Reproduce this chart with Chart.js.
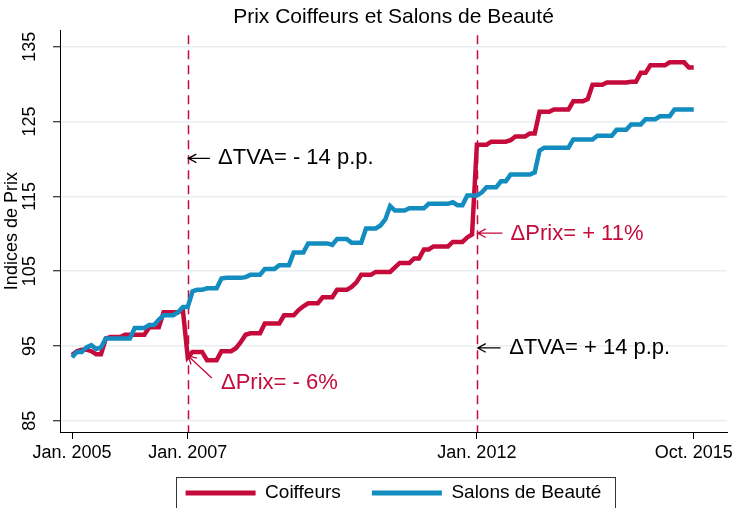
<!DOCTYPE html>
<html>
<head>
<meta charset="utf-8">
<script src="https://cdn.jsdelivr.net/npm/chart.js@4/dist/chart.umd.min.js"></script>
<style>
  html, body { margin: 0; padding: 0; background: #fff; }
</style>
</head>
<body>
<canvas id="prixChart" width="738" height="508"></canvas>
<script>
// Monthly price indices, Jan. 2005 (month 0) to Oct. 2015 (month 129)
const coiffeurs = [
  93.8, 94.3, 94.5, 94.5, 94.3, 93.9, 93.9, 96.0, 96.2, 96.2,
  96.2, 96.5, 96.5, 96.5, 96.5, 96.5, 97.5, 97.5, 97.5, 99.5,
  99.5, 99.5, 99.5, 99.8, 93.5, 94.2, 94.2, 94.2, 93.1, 93.1,
  93.1, 94.3, 94.3, 94.3, 94.7, 95.5, 96.5, 96.7, 96.7, 96.7,
  98.0, 98.0, 98.0, 98.0, 99.1, 99.1, 99.1, 99.8, 100.3, 100.7,
  100.7, 100.7, 101.5, 101.5, 101.5, 102.5, 102.5, 102.5, 102.9, 103.5,
  104.5, 104.5, 104.5, 104.9, 104.9, 104.9, 104.9, 105.5, 106.1, 106.1,
  106.1, 106.7, 106.7, 107.9, 107.9, 108.3, 108.3, 108.3, 108.3, 108.9,
  108.9, 108.9, 109.5, 109.9, 121.9, 121.9, 121.9, 122.3, 122.3, 122.3,
  122.3, 122.5, 123.0, 123.0, 123.0, 123.4, 123.4, 126.3, 126.3, 126.3,
  126.6, 126.6, 126.6, 126.6, 127.7, 127.7, 127.7, 128.0, 129.9, 129.9,
  129.9, 130.2, 130.2, 130.2, 130.2, 130.2, 130.3, 130.3, 131.5, 131.5,
  132.5, 132.5, 132.5, 132.5, 132.9, 132.9, 132.9, 132.9, 132.2, 132.2
];

const salons = [
  93.5, 94.2, 94.2, 94.8, 95.1, 94.6, 94.8, 96.0, 96.0, 96.0,
  96.0, 96.0, 96.0, 97.4, 97.4, 97.4, 97.8, 97.8, 98.5, 99.1,
  99.1, 99.1, 99.5, 100.2, 100.2, 102.3, 102.5, 102.5, 102.7, 102.7,
  102.7, 104.0, 104.1, 104.1, 104.1, 104.1, 104.2, 104.5, 104.5, 104.5,
  105.3, 105.3, 105.3, 105.8, 105.8, 105.8, 107.5, 107.5, 107.5, 108.7,
  108.7, 108.7, 108.7, 108.7, 108.5, 109.3, 109.3, 109.3, 108.8, 108.8,
  108.8, 110.7, 110.7, 110.7, 111.1, 111.9, 113.7, 113.1, 113.1, 113.1,
  113.4, 113.4, 113.4, 113.4, 114.0, 114.0, 114.0, 114.0, 114.0, 114.2,
  113.8, 113.8, 115.1, 115.1, 115.1, 115.5, 116.2, 116.2, 116.2, 117.0,
  117.0, 117.9, 117.9, 117.9, 117.9, 117.9, 118.2, 121.1, 121.5, 121.5,
  121.5, 121.5, 121.5, 121.5, 122.6, 122.6, 122.6, 122.6, 122.6, 123.1,
  123.1, 123.1, 123.1, 123.9, 123.9, 123.9, 124.6, 124.6, 124.6, 125.3,
  125.3, 125.3, 125.7, 125.7, 125.7, 126.6, 126.6, 126.6, 126.6, 126.6
];

const months = coiffeurs.map((_, i) => i);
const xTickMonths = [0, 24, 84, 129];
const xTickLabels = ["Jan. 2005", "Jan. 2007", "Jan. 2012", "Oct. 2015"];
const yTicks = [85, 95, 105, 115, 125, 135];
const vatMonths = [24, 84]; // VAT changes

const RED = "#c50a3c";
const BLUE = "#138cbf";
const FONT = "'Liberation Sans', Arial, sans-serif";

// text notes, placed in data units (month, index)
const notes = [
  { text: "\u0394TVA= - 14 p.p.", color: "#000", at: [30.3, 120.07], from: [28.6, 120.07], to: [24.15, 120.07] },
  { text: "\u0394TVA= + 14 p.p.", color: "#000", at: [90.7, 94.73], from: [88.9, 94.73], to: [84.2, 94.73] },
  { text: "\u0394Prix= + 11%", color: RED, at: [91.0, 109.95], from: [89.3, 110.07], to: [84.2, 110.07] },
  { text: "\u0394Prix= - 6%", color: RED, at: [30.9, 90.07], from: [29.0, 90.73], to: [24.1, 93.67] }
];

Chart.defaults.font.family = FONT;
Chart.defaults.color = "#000";

function drawArrow(ctx, x1, y1, x2, y2, color) {
  const ang = Math.atan2(y2 - y1, x2 - x1);
  const head = 9;
  ctx.strokeStyle = color;
  ctx.lineWidth = 1.3;
  ctx.beginPath();
  ctx.moveTo(x1, y1);
  ctx.lineTo(x2, y2);
  ctx.moveTo(x2 - head * Math.cos(ang - 0.5), y2 - head * Math.sin(ang - 0.5));
  ctx.lineTo(x2, y2);
  ctx.lineTo(x2 - head * Math.cos(ang + 0.5), y2 - head * Math.sin(ang + 0.5));
  ctx.stroke();
}

const vatLines = {
  id: "vatLines",
  beforeDatasetsDraw(chart) {
    const { ctx, chartArea, scales: { x } } = chart;
    ctx.save();
    ctx.strokeStyle = RED;
    ctx.lineWidth = 1.5;
    ctx.setLineDash([9, 6]);
    vatMonths.forEach((m) => {
      const px = Math.round(x.getPixelForValue(m)) + 0.5;
      ctx.beginPath();
      ctx.moveTo(px, chartArea.top + 5);
      ctx.lineTo(px, chartArea.bottom);
      ctx.stroke();
    });
    ctx.restore();
  },
  afterDatasetsDraw(chart) {
    const { ctx, scales: { x, y } } = chart;
    ctx.save();
    ctx.font = "22px " + FONT;
    ctx.textBaseline = "middle";
    ctx.textAlign = "left";
    notes.forEach((n) => {
      drawArrow(ctx,
        x.getPixelForValue(n.from[0]), y.getPixelForValue(n.from[1]),
        x.getPixelForValue(n.to[0]), y.getPixelForValue(n.to[1]), n.color);
      ctx.fillStyle = n.color;
      ctx.fillText(n.text, x.getPixelForValue(n.at[0]), y.getPixelForValue(n.at[1]));
    });
    ctx.restore();
  }
};

// frame round the legend
const legendFrame = {
  id: "legendFrame",
  afterDraw(chart) {
    const boxes = chart.legend && chart.legend.legendHitBoxes;
    if (!boxes || !boxes.length) return;
    const { ctx } = chart;
    const left = Math.min(...boxes.map((b) => b.left)) - 10;
    const right = Math.max(...boxes.map((b) => b.left + b.width)) + 13;
    const cy = boxes[0].top + boxes[0].height / 2;
    ctx.save();
    ctx.strokeStyle = "#333";
    ctx.lineWidth = 1;
    ctx.strokeRect(Math.round(left) + 0.5, Math.round(cy - 16) + 0.5, Math.round(right - left), 34);
    ctx.restore();
  }
};

new Chart(document.getElementById("prixChart").getContext("2d"), {
  type: "line",
  data: {
    labels: months,
    datasets: [
      {
        label: "Coiffeurs",
        data: months.map((m, i) => ({ x: m, y: coiffeurs[i] })),
        borderColor: RED,
        backgroundColor: RED,
        borderWidth: 4.5,
        pointRadius: 0,
        tension: 0,
        order: 2,
      },
      {
        label: "Salons de Beauté",
        data: months.map((m, i) => ({ x: m, y: salons[i] })),
        borderColor: BLUE,
        backgroundColor: BLUE,
        borderWidth: 4.5,
        pointRadius: 0,
        tension: 0,
        order: 1,
      },
    ],
  },
  options: {
    responsive: false,
    animation: false,
    layout: { padding: { left: 0, right: 11, top: 0, bottom: -4.5 } },
    plugins: {
      title: {
        display: true,
        text: "Prix Coiffeurs et Salons de Beauté",
        fullSize: false,
        color: "#000",
        font: { size: 21, weight: "normal" },
        padding: { top: 5, bottom: 0 },
      },
      legend: {
        position: "bottom",
        fullSize: false,
        labels: {
          font: { size: 19 },
          color: "#000",
          boxWidth: 70,
          boxHeight: 5,
          padding: 10,
          sort: (a, b) => a.datasetIndex - b.datasetIndex,
          // wider gap between the two keys
          generateLabels: (chart) =>
            Chart.defaults.plugins.legend.labels
              .generateLabels(chart)
              .map((l) => ({ ...l, lineWidth: 0, text: l.datasetIndex === 0 ? l.text + "    " : l.text })),
        },
      },
      tooltip: { enabled: false },
    },
    scales: {
      x: {
        type: "linear",
        min: -2.5,
        max: 135.9,
        afterBuildTicks: (s) => {
          s.ticks = xTickMonths.map((v) => ({ value: v }));
        },
        afterFit: (s) => {
          s.height = 41.5;
        },
        grid: { drawOnChartArea: false, tickLength: 7, tickColor: "#000", tickWidth: 1 },
        border: { color: "#000", width: 1 },
        ticks: {
          font: { size: 18 },
          color: "#000",
          padding: 3,
          maxRotation: 0,
          autoSkip: false,
          callback: (v) => xTickLabels[xTickMonths.indexOf(v)],
        },
      },
      y: {
        min: 83.5,
        max: 137.2,
        afterBuildTicks: (s) => {
          s.ticks = yTicks.map((v) => ({ value: v }));
        },
        afterFit: (s) => {
          s.width = 60;
        },
        grid: { color: "#e8eef1", lineWidth: 1.5, tickColor: "#000", tickLength: 7, tickWidth: 1 },
        border: { color: "#000", width: 1 },
        ticks: {
          font: { size: 18 },
          color: "#000",
          minRotation: 90,
          maxRotation: 90,
          crossAlign: "center",
          padding: 8,
        },
        title: {
          display: true,
          text: "Indices de Prix",
          color: "#000",
          font: { size: 18 },
          padding: { top: 1, bottom: 0 },
        },
      },
    },
  },
  plugins: [vatLines, legendFrame],
});
</script>
</body>
</html>
